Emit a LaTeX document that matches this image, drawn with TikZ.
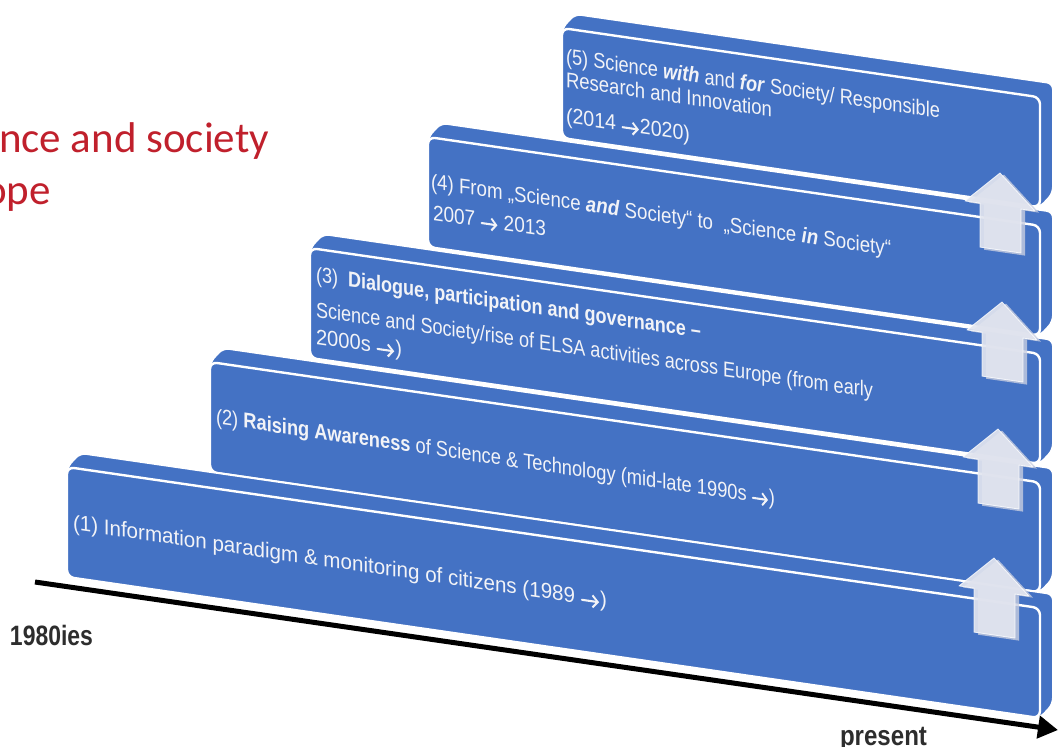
\documentclass[tikz,border=0pt]{standalone}
\usepackage{fontspec}
\setmainfont{Liberation Sans}
\newfontfamily\titlefont{Carlito}
\usetikzlibrary{arrows.meta}
\definecolor{slabblue}{RGB}{68,114,196}
\definecolor{slabtext}{RGB}{242,243,247}
\definecolor{titlered}{RGB}{192,32,44}
\definecolor{axisgray}{RGB}{45,45,45}
\definecolor{uparrow}{RGB}{226,229,239}
\definecolor{arrowside}{RGB}{200,206,224}
\newdimen\slabw
\newcommand\slabfont{\fontsize{21.5}{24}\selectfont}
\newcommand\lblfont{\fontsize{28}{30}\selectfont\bfseries}
\newcommand\ar{\tikz[reset cm, x=1pt, y=1pt, baseline=0pt]\draw[line width=2.1pt, color=slabtext, line cap=round,
  -{Straight Barb[length=5.5pt,width=12pt]}] (0,4) -- (18,4);}
\def\slabR{1040}
\def\slabS{0.145}
\def\slabH{110}
\def\slabDX{13}
\def\slabDY{14}
\newcommand\drawslab[3]{%
  \pgfmathsetmacro\sD{\slabS*(\slabR-#2)}%
  \coordinate (#1-ftl) at (#2,#3);
  \coordinate (#1-ftr) at (\slabR,#3+\sD);
  \coordinate (#1-fbr) at (\slabR,#3+\sD+\slabH);
  \coordinate (#1-fbl) at (#2,#3+\slabH);
  \coordinate (#1-btl) at (#2+\slabDX,#3-\slabDY);
  \coordinate (#1-btr) at (\slabR+\slabDX,#3+\sD-\slabDY);
  \coordinate (#1-bbr) at (\slabR+\slabDX,#3+\sD+\slabH-\slabDY);
  \path[slabbody] (#1-ftl) -- (#1-btl) -- (#1-btr) -- (#1-bbr) -- (#1-fbr) -- (#1-fbl) -- cycle;
  \path[slabface] (#1-ftl) -- (#1-ftr) -- (#1-fbr) -- (#1-fbl) -- cycle;
}
\newcommand\measure[1]{%
  \pgfinterruptpicture\global\setbox1=\hbox{#1}\endpgfinterruptpicture
  \global\slabw=\wd1 }
\newcommand\slabline[5]{%
  \measure{\slabfont #5}%
  \pgfmathsetmacro\slabxs{#4/\slabw}%
  \node[slabtxt, xscale=\slabxs] (#1) at (#2,#3) {\slabfont #5};%
}
\newcommand\fitlabel[5]{%
  \measure{\lblfont #5}%
  \pgfmathsetmacro\slabxs{#4/\slabw}%
  \node[axislbl, xscale=\slabxs] (#1) at (#2,#3) {\lblfont #5};%
}
\newcommand\uparrowat[2]{%
  \begin{scope}[shift={(#1,#2)}, yslant=-0.145]
    \path[uparrside] (4,1) -- (39,34) -- (25,34) -- (25,79) -- (-16,79) -- (-16,34) -- (-31,34) -- cycle;
    \path[uparr] (0,0) -- (35,33) -- (21,33) -- (21,77) -- (-20,77) -- (-20,33) -- (-35,33) -- cycle;
  \end{scope}}
\begin{document}
\begin{tikzpicture}[x=1pt,y=-1pt,
  slabbody/.style={fill=slabblue, draw=white, line width=2pt, rounded corners=6pt, line join=round},
  slabface/.style={fill=slabblue, draw=white, line width=2.4pt, rounded corners=7pt},
  slabtxt/.style={anchor=base west, inner sep=0pt, outer sep=0pt, text=slabtext, yslant=-0.145},
  uparr/.style={fill=uparrow, fill opacity=0.92, draw=white, draw opacity=0.8, line width=0.8pt, line join=round},
  uparrside/.style={fill=arrowside, fill opacity=0.8},
  axislbl/.style={anchor=base west, inner sep=0pt, outer sep=0pt, text=axisgray},
  titletxt/.style={inner sep=0pt, outer sep=0pt, text=titlered, font=\titlefont\fontsize{43}{48}\selectfont}]
\useasboundingbox (0,0) rectangle (1058,747);
\clip (0,0) rectangle (1058,747);
% title fragments
\node[titletxt, anchor=base west] (title1) at (-1,152) {nce and society};
\node[titletxt, anchor=base east] (title2) at (51,204) {ope};
% slabs, top to bottom
\drawslab{s5}{562}{28}
\drawslab{s4}{428}{137}
\drawslab{s3}{310}{248}
\drawslab{s2}{210}{362}
\drawslab{s1}{67}{467}
% texts
\slabline{t5a}{566}{64}{374}{(5) Science \textbf{\textit{with}} and \textbf{\textit{for}} Society/ Responsible}
\slabline{t5b}{566}{87}{206}{Research and Innovation}
\slabline{t5c}{566}{123}{124}{(2014 \ar2020)}
\slabline{t4a}{431}{189}{460}{(4) From „Science \textbf{\textit{and}} Society“ to \ „Science \textbf{\textit{in}} Society“}
\slabline{t4b}{433}{220}{113}{2007 \ar\ 2013}
\slabline{t3a}{316}{282}{385}{(3) \ \textbf{Dialogue, participation and governance –}}
\slabline{t3b}{316}{317}{557}{Science and Society/rise of ELSA activities across Europe (from early}
\slabline{t3c}{316}{344}{86}{2000s \ar)}
\slabline{t2a}{216}{424}{559}{(2) \textbf{Raising Awareness} of Science \& Technology (mid-late 1990s \ar)}
\slabline{t1a}{73}{530}{534}{(1) Information paradigm \& monitoring of citizens (1989 \ar)}
% up arrows
\uparrowat{1000}{173}
\uparrowat{1002}{302}
\uparrowat{998}{429}
\uparrowat{994}{558}
% time axis
\coordinate (axstart) at (35,582);
\coordinate (axend) at (1058,730);
\draw[line width=5pt, -{Triangle[length=20pt,width=22pt]}] (axstart) -- (axend);
\fitlabel{start}{10}{645}{83}{1980ies}
\fitlabel{present}{840}{745}{87}{present}
\end{tikzpicture}
\end{document}
